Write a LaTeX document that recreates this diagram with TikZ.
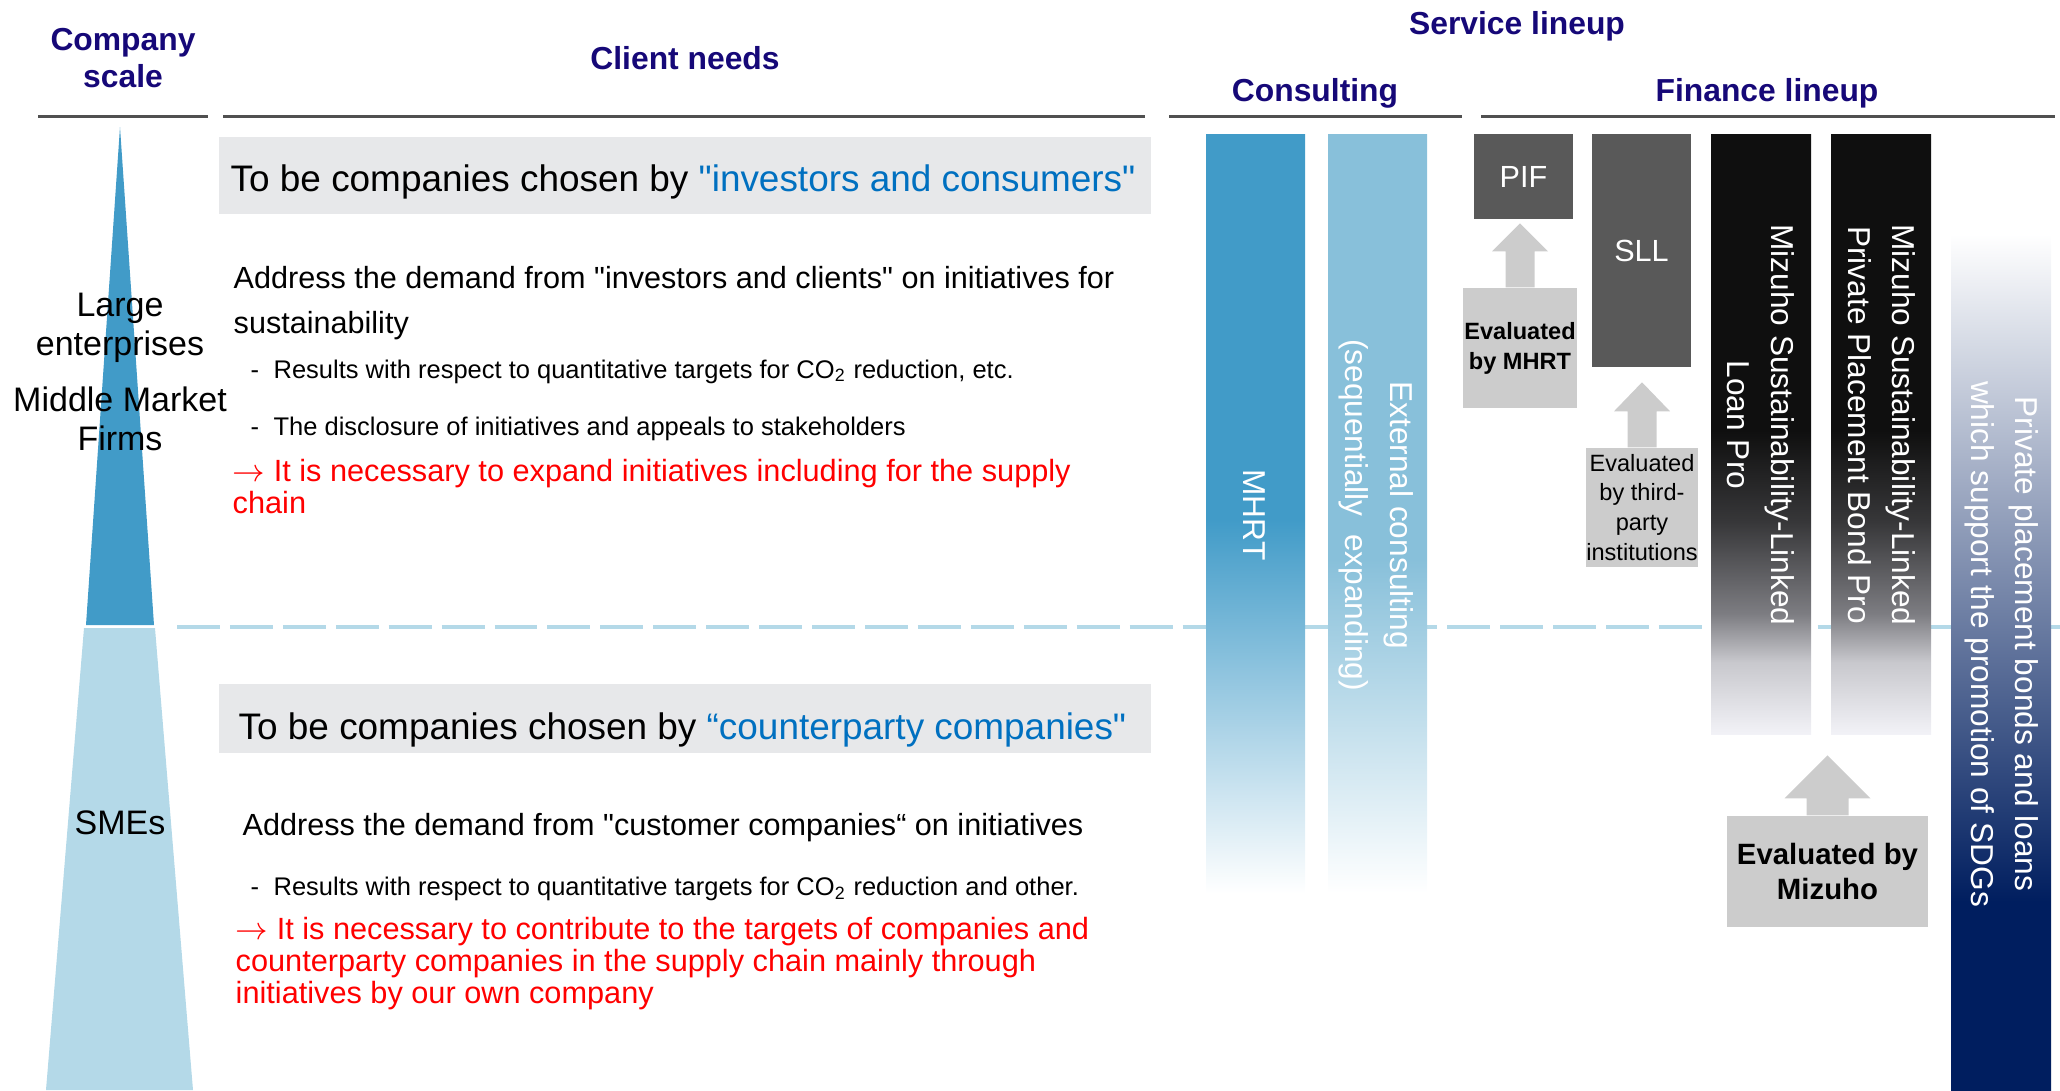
\documentclass[tikz,border=0pt]{standalone}
\usepackage{fontspec}
\setmainfont{Liberation Sans}[Ligatures=TeXOff]
\usepackage{xcolor}

\definecolor{headblue}{RGB}{22,8,120}
\definecolor{rulegray}{RGB}{80,80,80}
\definecolor{scaledark}{RGB}{65,155,200}
\definecolor{scalelight}{RGB}{180,217,232}
\definecolor{dashblue}{RGB}{180,217,232}
\definecolor{pitchgray}{RGB}{231,232,234}
\definecolor{keyblue}{RGB}{0,112,192}
\definecolor{alertred}{RGB}{255,0,0}
\definecolor{mhrtblue}{RGB}{65,155,200}
\definecolor{extblue}{RGB}{136,192,218}
\definecolor{prodgray}{RGB}{89,89,89}
\definecolor{evalgray}{RGB}{204,204,204}
\definecolor{barblack}{RGB}{15,15,15}
\definecolor{bardim}{RGB}{55,55,57}
\definecolor{barmid}{RGB}{125,125,130}
\definecolor{barlight}{RGB}{200,200,205}
\definecolor{barpale}{RGB}{242,242,247}
\definecolor{sdgnavy}{RGB}{0,30,95}

% fades of the product bars (bottom = 0bp)
\pgfdeclareverticalshading{mhrtfade}{100bp}{color(0bp)=(white); color(25bp)=(white); color(49.6bp)=(mhrtblue); color(100bp)=(mhrtblue)}
\pgfdeclareverticalshading{extfade}{100bp}{color(0bp)=(white); color(25bp)=(white); color(47bp)=(extblue); color(100bp)=(extblue)}
\pgfdeclareverticalshading{prodfade}{100bp}{color(0bp)=(barpale); color(25bp)=(barpale); color(31bp)=(barlight); color(35bp)=(barmid); color(42.7bp)=(bardim); color(50.3bp)=(barblack); color(100bp)=(barblack)}
\pgfdeclareverticalshading{sdgfade}{100bp}{color(0bp)=(sdgnavy); color(36bp)=(sdgnavy); color(75bp)=(white); color(100bp)=(white)}

\tikzset{
  head/.style={font=\fontsize{9.05}{10.5}\selectfont\bfseries, text=headblue, align=center, inner sep=0pt},
  headrule/.style={draw=rulegray, line width=0.85pt},
  scalelabel/.style={font=\fontsize{9.67}{11}\selectfont, align=center, inner sep=0pt},
  pitch/.style={font=\fontsize{10.5}{12}\selectfont, inner sep=0pt},
  need/.style={font=\fontsize{8.7}{12.8}\selectfont, align=left, inner sep=0pt},
  subpoint/.style={font=\fontsize{7.25}{8.5}\selectfont, inner sep=0pt},
  conclusion/.style={font=\fontsize{8.73}{9}\selectfont, text=alertred, align=left, inner sep=0pt},
  bartext/.style={font=\fontsize{9}{12.5}\selectfont, text=white, align=center, rotate=-90, inner sep=0pt},
  product/.style={fill=prodgray, text=white, font=\fontsize{8.7}{10}\selectfont, inner sep=0pt},
  evalbox/.style={fill=evalgray, align=center, inner sep=0pt},
}

% block arrow pointing up from a box: node, shaft length, head length, shaft/head half widths
\newcommand{\evalarrow}[5]{%
  \fill[evalgray] (#1.north) ++(-#4,0) -- ++(0,-#2) -- ++({#4-#5},0) -- ++(#5,-#3)
    -- ++(#5,#3) -- ++({#4-#5},0) -- ++(0,#2) -- cycle;}

\begin{document}
\begin{tikzpicture}[x=0.01cm, y=-0.01cm]
  \useasboundingbox (0,0) rectangle (2060,1090);

  % column headings
  \node[head] (scalehead) at (123,58) {Company\\scale};
  \node[head, anchor=base] (needshead) at (685,69) {Client needs};
  \node[head, anchor=base] (servicehead) at (1517,34) {Service lineup};
  \node[head, anchor=base] (consulthead) at (1315,101) {Consulting};
  \node[head, anchor=base] (financehead) at (1767,101) {Finance lineup};
  \foreach \a/\b in {38/208, 223/1145, 1169/1462, 1481/2055}
    \draw[headrule] (\a,116) -- (\b,116);

  % company scale pyramid
  \fill[scaledark] (120,127) -- (154,625) -- (86,625) -- cycle;
  \fill[scalelight] (84,628) -- (155,628) -- (193,1090) -- (46,1090) -- cycle;
  \node[scalelabel] (large) at (120,328) {Large\\enterprises};
  \node[scalelabel] (midmarket) at (120,419) {Middle Market\\Firms};
  \node[scalelabel, anchor=base] (smes) at (120,834.5) {SMEs};

  % border between the two segments
  \draw[dashblue, line width=1.28pt, dash pattern=on 12.2pt off 2.85pt] (177,627) -- (2060,627);

  % needs of large and middle market firms
  \fill[pitchgray] (219,137) rectangle (1151,214);
  \node[pitch, anchor=base west] (pitchtop) at (230,191) {To be companies chosen by \textcolor{keyblue}{"investors and consumers"}};
  \node[need, anchor=north west] (needtop) at (233,265.5) {Address the demand from "investors and clients" on initiatives for\\sustainability};
  \node[subpoint, anchor=base west] (co2top) at (250,378) {-\hskip4.1pt Results with respect to quantitative targets for CO\textsubscript{2} reduction, etc.};
  \node[subpoint, anchor=base west] (disclose) at (250,435) {-\hskip4.1pt The disclosure of initiatives and appeals to stakeholders};
  \node[conclusion, anchor=north west] (supplytop) at (232,458.6) {$\rightarrow$ It is necessary to expand initiatives including for the supply\\chain};

  % needs of SMEs
  \fill[pitchgray] (219,684) rectangle (1151,753);
  \node[pitch, anchor=base west] (pitchlow) at (238,739) {To be companies chosen by \textcolor{keyblue}{“counterparty companies"}};
  \node[need, anchor=base west] (needlow) at (242,835) {Address the demand from "customer companies“ on initiatives};
  \node[subpoint, anchor=base west] (co2low) at (250,895) {-\hskip4.1pt Results with respect to quantitative targets for CO\textsubscript{2} reduction and other.};
  \node[conclusion, anchor=north west] (supplylow) at (235,916.9) {$\rightarrow$ It is necessary to contribute to the targets of companies and\\counterparty companies in the supply chain mainly through\\initiatives by our own company};

  % consulting
  \shade[shading=mhrtfade] (1206,134) rectangle (1305,893);
  \shade[shading=extfade] (1328,134) rectangle (1427,893);
  \node[bartext] (mhrt) at (1254,515) {MHRT};
  \node[bartext, font=\fontsize{9}{12.8}\selectfont] (extcons) at (1376,515) {External consulting\\(sequentially\ \ expanding)};

  % finance lineup
  \node[product, minimum width=0.99cm, minimum height=0.85cm] (pif) at (1523.5,176.5) {PIF};
  \node[product, minimum width=0.99cm, minimum height=2.33cm] (sll) at (1641.5,250.5) {SLL};
  \node[evalbox, font=\fontsize{6.7}{8.5}\selectfont\bfseries, minimum width=1.14cm, minimum height=1.2cm] (evmhrt) at (1520,348) {Evaluated\\by MHRT};
  \node[evalbox, font=\fontsize{6.7}{8.5}\selectfont, minimum width=1.12cm, minimum height=1.19cm] (evthird) at (1642,507.5) {Evaluated\\by third-\\party\\institutions};
  \evalarrow{evmhrt}{36}{28}{14.5}{28}
  \evalarrow{evthird}{36}{29}{14.5}{28}

  \shade[shading=prodfade] (1711,134) rectangle (1811,734);
  \shade[shading=prodfade] (1831,134) rectangle (1931,734);
  \node[bartext] (loanpro) at (1761,425) {Mizuho Sustainability-Linked\\Loan Pro};
  \node[bartext] (bondpro) at (1882,425) {Mizuho Sustainability-Linked\\Private Placement Bond Pro};
  \node[evalbox, font=\fontsize{8.35}{9.7}\selectfont\bfseries, minimum width=2.01cm, minimum height=1.11cm] (evmizuho) at (1827.5,871.5) {Evaluated by\\Mizuho};
  \evalarrow{evmizuho}{17}{43}{21}{43}

  \shade[shading=sdgfade] (1951,234) rectangle (2051,1090);
  \node[bartext] (sdgs) at (2002,644) {Private placement bonds and loans\\which support the promotion of SDGs};
\end{tikzpicture}
\end{document}
